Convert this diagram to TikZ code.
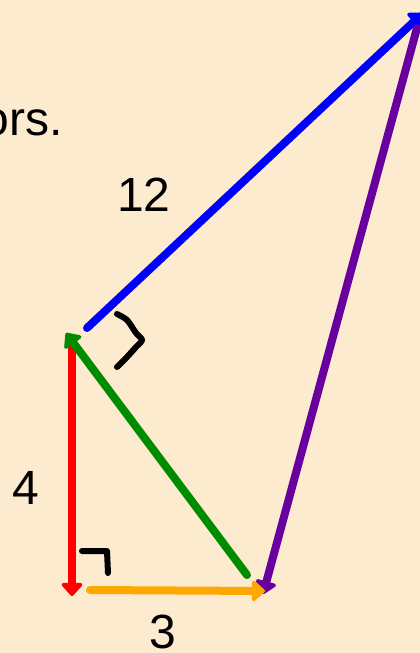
\documentclass[tikz,border=0pt]{standalone}
\usepackage{fontspec}
\setmainfont{Liberation Sans}
\usetikzlibrary{arrows.meta}

\definecolor{paper}{RGB}{253,235,208}
\definecolor{vblue}{RGB}{0,0,255}
\definecolor{vpurple}{RGB}{104,0,160}
\definecolor{vred}{RGB}{255,0,0}
\definecolor{vorange}{RGB}{255,168,0}
\definecolor{vgreen}{RGB}{0,140,0}

\tikzset{
  vec/.style={line width=8pt, line cap=round,
    -{Triangle[length=14pt,width=24pt,round]}},
  pen/.style={line width=6pt, line cap=round, line join=round},
  num/.style={font=\fontsize{48}{58}\selectfont, inner sep=0pt}
}

\begin{document}
\begin{tikzpicture}[x=1pt,y=-1pt]
    % Фон
    \useasboundingbox (0,0) rectangle (420,653);
    \fill[paper] (0,0) rectangle (420,653);
    \clip (0,0) rectangle (420,653);

    % Кінці векторів
    \coordinate (P) at (87,328);
    \coordinate (Q) at (423,13);
    \coordinate (R) at (417,28);
    \coordinate (S) at (263,594);
    \coordinate (T) at (72,342);
    \coordinate (U) at (72,596);
    \coordinate (V) at (90,590);
    \coordinate (W) at (265,591);
    \coordinate (X) at (247,575);
    \coordinate (Y) at (66,333);

    % Текст угорі
    \node[num, anchor=base east] (txt) at (63,135) {ors.};

    % Вектори
    \draw[vec, vblue] (P) -- (Q);
    \draw[vec, vpurple] (R) -- (S);
    \draw[vec, vred] (T) -- (U);
    \draw[vec, vorange] (V) -- (W);
    \draw[vec, vgreen] (X) -- (Y);

    % Позначка кута
    \draw[pen] plot[smooth] coordinates {(117,314) (127,320) (136,333) (142,340) (136,347) (127,357) (117,367)};

    % Прямий кут
    \draw[pen] (82,551) -- (107,551) -- (108,573);

    % Підписи
    \node[num] (l12) at (144,195) {12};
    \node[num] (l4) at (26,488) {4};
    \node[num] (l3) at (163,632) {3};
\end{tikzpicture}
\end{document}
